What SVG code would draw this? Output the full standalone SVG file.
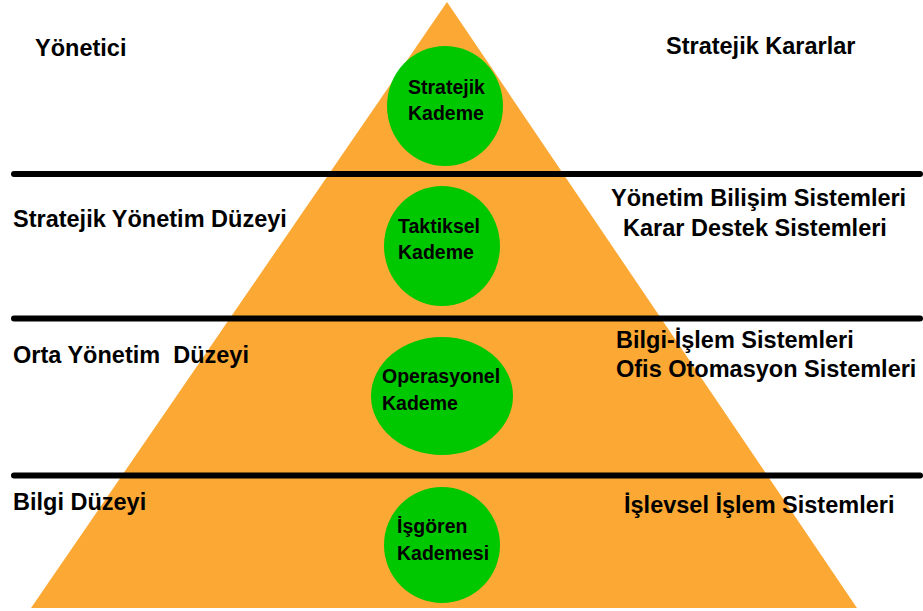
<svg xmlns="http://www.w3.org/2000/svg" width="923" height="611" viewBox="0 0 923 611">
<style>
.lbl{font-family:"Liberation Sans",Arial,sans-serif;font-weight:bold;font-size:23.5px;fill:#000}
.ct{font-family:"Liberation Sans",Arial,sans-serif;font-weight:bold;font-size:19.5px;fill:#000}
.circ{fill:#00C800}
.sep{stroke:#000;stroke-width:6;stroke-linecap:round}
</style>
<rect x="0" y="0" width="923" height="611" fill="#fff"/>
<g id="pyramid">
<polygon points="447,2 31,608 857,608" fill="#FBA934"/>
</g>
<g id="separators">
<line class="sep" x1="14" y1="174" x2="920" y2="174"/>
<line class="sep" x1="14" y1="318.5" x2="920" y2="318.5"/>
<line class="sep" x1="14" y1="475.5" x2="920" y2="475.5"/>
</g>
<g id="node-stratejik">
<ellipse class="circ" cx="445" cy="106" rx="58" ry="60"/>
<text class="ct" x="408" y="94">Stratejik</text>
<text class="ct" x="408" y="120">Kademe</text>
</g>
<g id="node-taktiksel">
<ellipse class="circ" cx="442" cy="246" rx="58" ry="60"/>
<text class="ct" x="398" y="233">Taktiksel</text>
<text class="ct" x="398" y="259">Kademe</text>
</g>
<g id="node-operasyonel">
<ellipse class="circ" cx="442" cy="396" rx="71" ry="59"/>
<text class="ct" x="382" y="383">Operasyonel</text>
<text class="ct" x="382" y="410">Kademe</text>
</g>
<g id="node-isgoren">
<ellipse class="circ" cx="442" cy="545" rx="58" ry="58"/>
<text class="ct" x="397" y="533">İşgören</text>
<text class="ct" x="397" y="560">Kademesi</text>
</g>
<g id="left-labels">
<text class="lbl" x="35" y="56">Yönetici</text>
<text class="lbl" x="13" y="227">Stratejik Yönetim Düzeyi</text>
<text class="lbl" x="13" y="363" xml:space="preserve">Orta Yönetim  Düzeyi</text>
<text class="lbl" x="13" y="510">Bilgi Düzeyi</text>
</g>
<g id="right-labels">
<text class="lbl" x="666" y="54">Stratejik Kararlar</text>
<text class="lbl" x="611" y="206">Yönetim Bilişim Sistemleri</text>
<text class="lbl" x="623" y="236">Karar Destek Sistemleri</text>
<text class="lbl" x="616" y="348">Bilgi-İşlem Sistemleri</text>
<text class="lbl" x="616" y="377">Ofis Otomasyon Sistemleri</text>
<text class="lbl" x="624" y="513">İşlevsel İşlem Sistemleri</text>
</g>
</svg>
